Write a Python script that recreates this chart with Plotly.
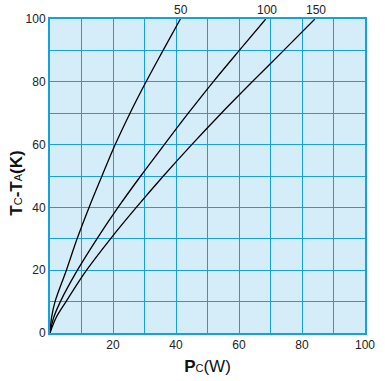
import plotly.graph_objects as go

# Tc-Ta (K) levels
y_levels = [0, 5, 10, 20, 30, 40, 50, 60, 70, 80, 90, 100]
# Pc (W) read for each curve at the y levels above
x_50 = [0, 0.5, 1.6, 5.2, 8.6, 12.4, 16.5, 20.7, 25.4, 30.5, 35.9, 41.4]
x_100 = [0, 1.2, 3.3, 8.7, 14.9, 21.6, 28.8, 36.3, 43.9, 51.8, 60.1, 68.5]
x_150 = [0, 2.0, 5.1, 11.6, 19.2, 27.4, 36.0, 45.0, 54.4, 64.2, 74.2, 84.1]
curve_names = ["50", "100", "150"]

x_tickvals = [0, 10, 20, 30, 40, 50, 60, 70, 80, 90, 100]
x_ticktext = ["", "", "20", "", "40", "", "60", "", "80", "", "100"]
y_tickvals = [0, 10, 20, 30, 40, 50, 60, 70, 80, 90, 100]
y_ticktext = ["0", "", "20", "", "40", "", "60", "", "80", "", "100"]

BLUE = "#16a0e3"
BG = "#d5ecf9"
FONT = "Liberation Sans, Arial, sans-serif"

fig = go.Figure()
for xs, name in zip([x_50, x_100, x_150], curve_names):
    fig.add_trace(go.Scatter(
        x=xs, y=y_levels, mode="lines", name=name,
        line=dict(color="black", width=1.3, shape="spline", smoothing=1.0),
        showlegend=False, hoverinfo="skip", cliponaxis=False))
    fig.add_annotation(x=xs[-1], y=y_levels[-1], text=name, showarrow=False,
                       xanchor="center", yanchor="bottom", yshift=0, xshift=1,
                       font=dict(size=12, color="#222", family=FONT))

axis_common = dict(
    range=[0, 100], showgrid=True, gridcolor=BLUE, gridwidth=1,
    showline=True, linecolor=BLUE, linewidth=2, mirror=True,
    zeroline=False, ticks="", tickfont=dict(size=12, color="#222", family=FONT),
    tickmode="array", automargin=False,
)

fig.update_xaxes(**axis_common, tickvals=x_tickvals, ticktext=x_ticktext,
                 title=dict(text="<b>P</b><span style='font-size:11px'>C</span>(W)",
                            font=dict(size=17, color="#111", family=FONT), standoff=9))
fig.update_yaxes(**axis_common, tickvals=y_tickvals, ticktext=y_ticktext)

fig.add_annotation(
    xref="paper", yref="paper", x=-0.1076, y=0.476, xanchor="center", yanchor="middle",
    text="<b>T</b><span style='font-size:11px'>C</span><b>-T</b><span style='font-size:11px'>A</span><b>(K)</b>",
    textangle=-90, showarrow=False, font=dict(size=17, color="#111", family=FONT))

fig.update_layout(
    width=385, height=381,
    margin=dict(l=50, r=20, t=19, b=48),
    plot_bgcolor=BG, paper_bgcolor="white",
    font=dict(family=FONT),
)

# remove the default 8px page margin so the figure sits at the window's corner
fig.write_html("out.html", config={"displayModeBar": False},
               post_script="document.body.style.margin='0';")
